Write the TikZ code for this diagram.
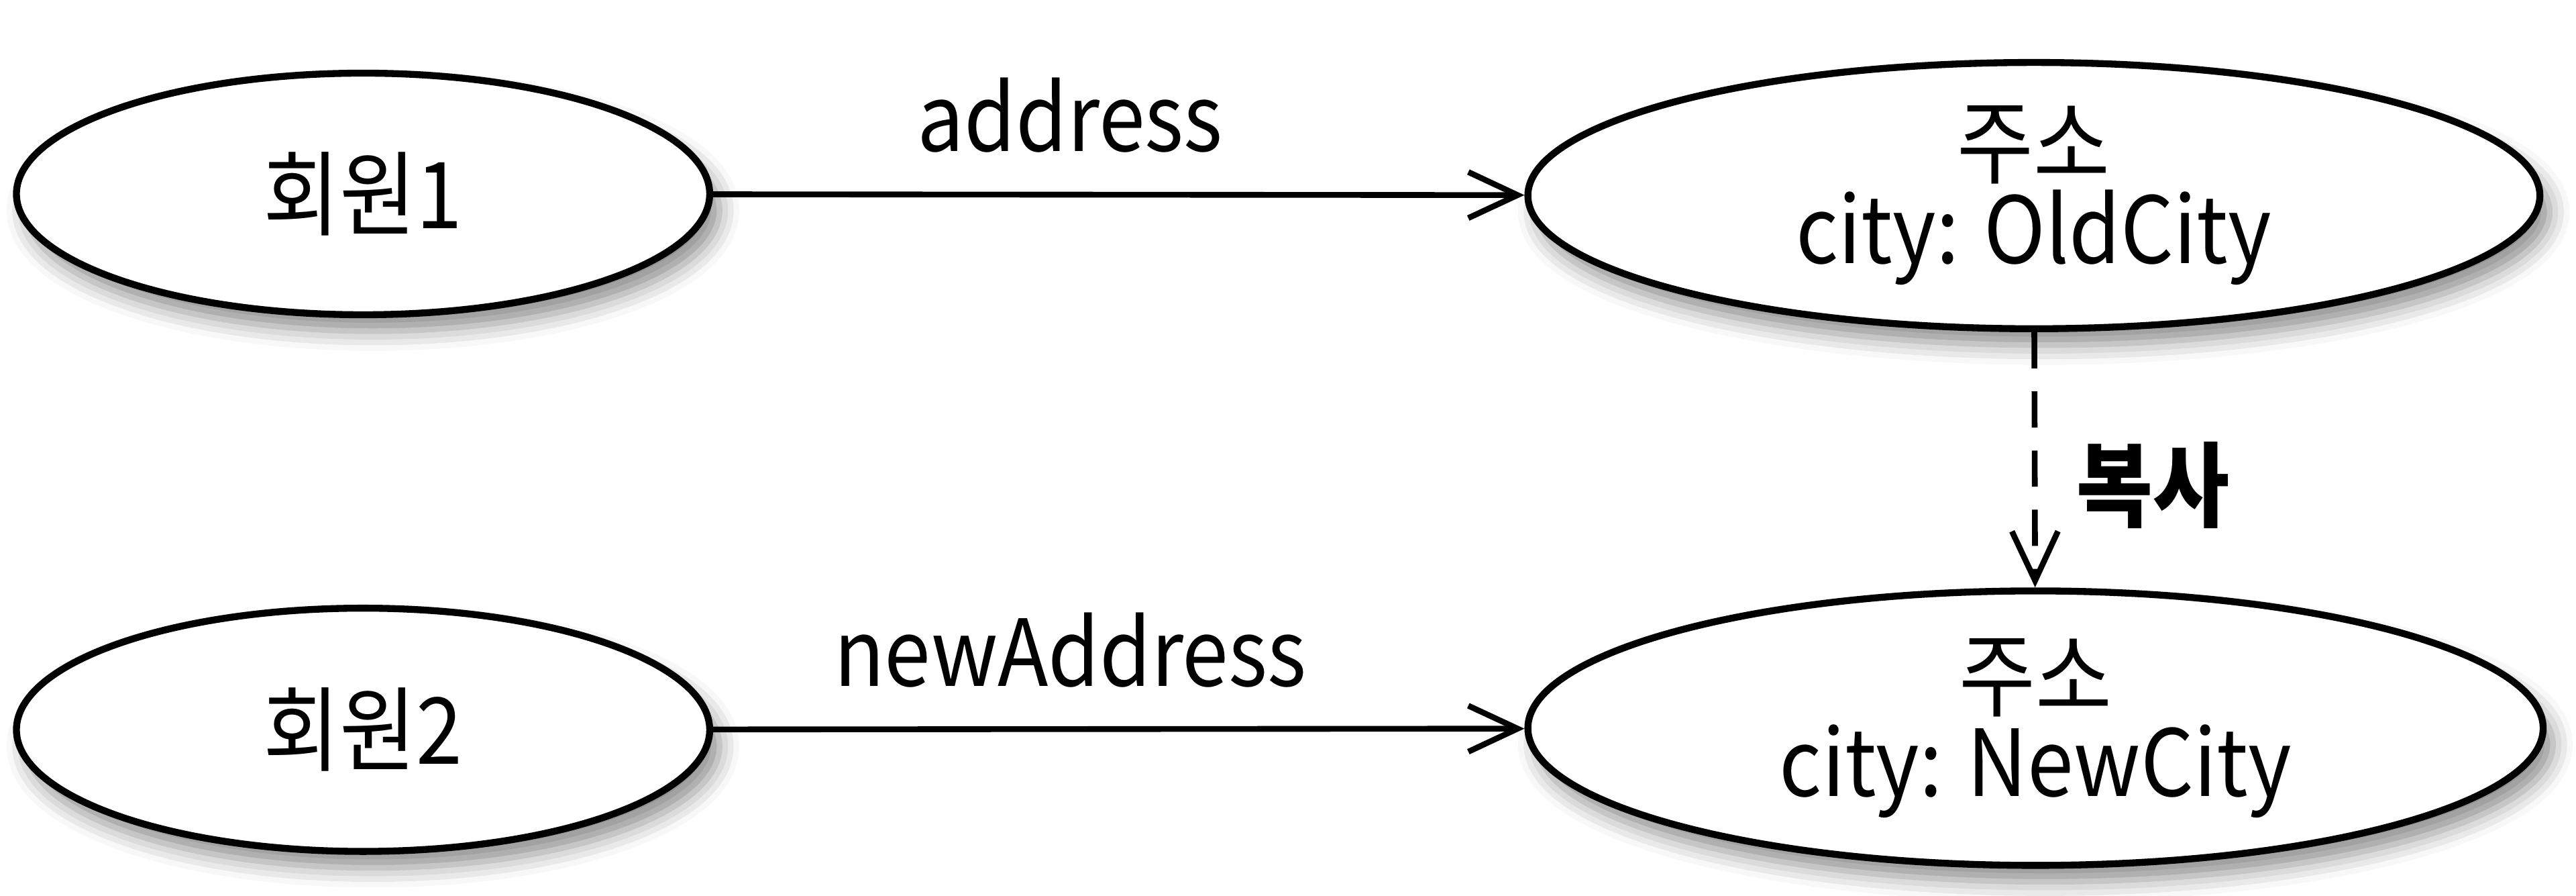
\documentclass[tikz,border=0pt]{standalone}
\usepackage{fontspec}
\setmainfont{Noto Sans CJK KR}[FakeStretch=0.9]
\usepackage{tikz}
\usetikzlibrary{shapes.geometric}
\usetikzlibrary{arrows.meta,shadows.blur}

\begin{document}
\begin{tikzpicture}
\tikzset{obj/.style={draw,ellipse,line width=1.2pt,fill=white,inner sep=0pt,align=center,
  font=\fontsize{16}{15}\selectfont,
  blur shadow={shadow xshift=0.6mm,shadow yshift=-1mm,shadow blur radius=1.2mm,shadow opacity=45}},
  ref/.style={-{Straight Barb[length=3mm,width=2.8mm]},line width=1pt},
  lbl/.style={font=\fontsize{16}{18}\selectfont}}
\useasboundingbox (0,0) rectangle (15.68,5.45);
\node (m1) at (2.21,4.27) [obj,minimum width=4.22cm,minimum height=1.47cm] {회원1};
\node (a1) at (12.38,4.26) [obj,minimum width=6.16cm,minimum height=1.62cm] {주소\\city: OldCity};
\node (m2) at (2.21,1.01) [obj,minimum width=4.22cm,minimum height=1.48cm] {회원2};
\node (a2) at (12.39,1.02) [obj,minimum width=6.18cm,minimum height=1.67cm] {주소\\city: NewCity};

\path
(m1) edge [ref] node[lbl,above=0.12cm,pos=0.44] {address} (a1)
(m2) edge [ref] node[lbl,above=0.12cm,pos=0.44] {newAddress} (a2)
(a1) edge [ref,dash pattern=on 2.2mm off 1.4mm] node[lbl,right=0.12cm,pos=0.6] {\bfseries 복사} (a2);
\end{tikzpicture}
\end{document}
